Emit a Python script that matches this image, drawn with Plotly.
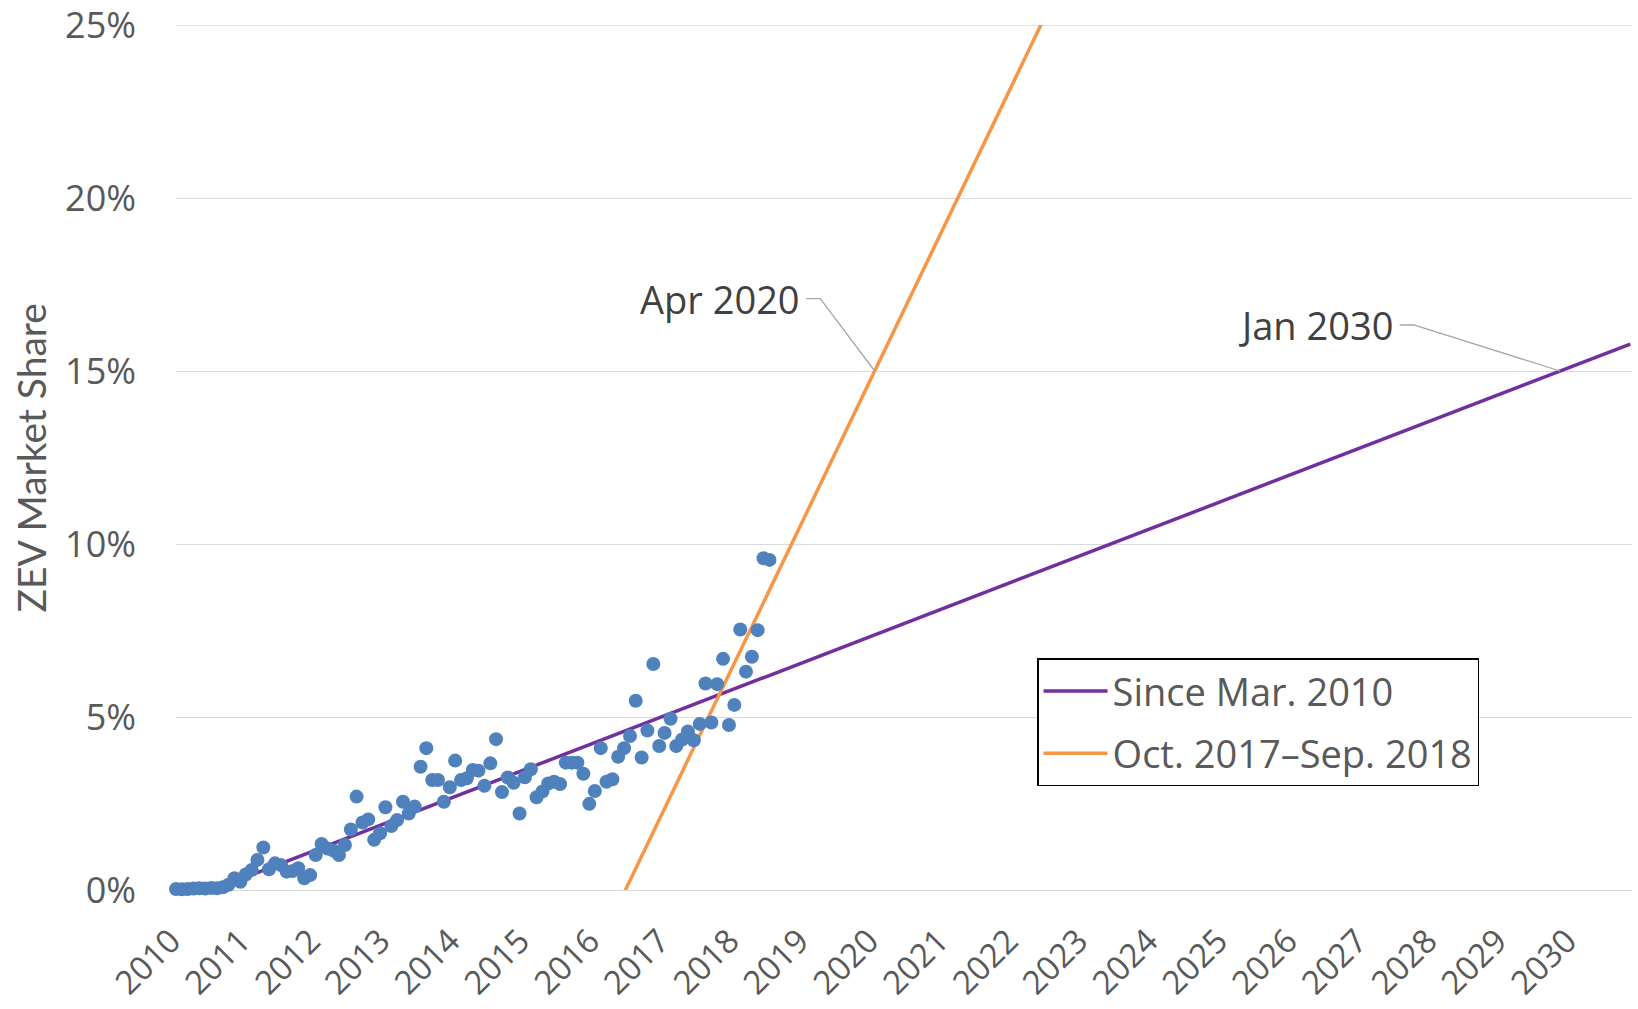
import pandas as pd
import plotly.graph_objects as go

# ---------------- data ----------------
# monthly ZEV market share (%), Mar 2010 .. Sep 2018
share_pct = [
    0.03, 0.02, 0.03, 0.04, 0.05, 0.04, 0.06, 0.05, 0.08, 0.15,   # Mar-Dec 2010
    0.34, 0.24, 0.45, 0.58, 0.87, 1.23, 0.60, 0.77, 0.72, 0.53,   # 2011
    0.55, 0.63, 0.34, 0.43, 1.01, 1.33, 1.20, 1.14, 1.01, 1.30,
    1.75, 2.70, 1.95, 2.04, 1.45, 1.64, 2.39, 1.85, 2.02, 2.55,
    2.21, 2.41, 3.56, 4.10, 3.18, 3.18, 2.55, 2.97, 3.74, 3.18,
    3.23, 3.47, 3.45, 3.01, 3.66, 4.36, 2.83, 3.25, 3.10, 2.21,
    3.26, 3.49, 2.68, 2.85, 3.08, 3.13, 3.06, 3.68, 3.68, 3.68,
    3.36, 2.49, 2.86, 4.10, 3.13, 3.20, 3.85, 4.10, 4.45, 5.47,
    3.83, 4.61, 6.53, 4.16, 4.54, 4.95, 4.16, 4.35, 4.58, 4.33,
    4.80, 5.97, 4.84, 5.95, 6.68, 4.77, 5.35, 7.53, 6.31, 6.74,
    7.51, 9.59, 9.54,
]
months = pd.date_range("2010-03-01", periods=len(share_pct), freq="MS")

# linear trend lines (read at two dates each; they extend beyond the plot and are clipped)
trend_all_name = "Since Mar. 2010"
trend_all_dates = ["2010-03-01", "2031-01-01"]
trend_all_pct = [-0.40, 15.78]

trend_recent_name = "Oct. 2017\u2013Sep. 2018"
trend_recent_dates = ["2016-03-01", "2023-03-01"]
trend_recent_pct = [-1.84, 27.55]

target_level = 15.0
year_labels = list(range(2010, 2031))
y_tick_values = [0, 5, 10, 15, 20, 25]

# ---------------- helpers ----------------
def crossing(dates, vals, level):
    t0, t1 = pd.Timestamp(dates[0]), pd.Timestamp(dates[1])
    frac = (level - vals[0]) / (vals[1] - vals[0])
    return t0 + (t1 - t0) * frac

cross_recent = crossing(trend_recent_dates, trend_recent_pct, target_level)
cross_all = crossing(trend_all_dates, trend_all_pct, target_level)

BLUE = "#4F81BD"
PURPLE = "#7030A0"
ORANGE = "#F79646"
GRID = "#D9D9D9"
TXT = "#595959"
FONT = "Open Sans"

fig = go.Figure()

fig.add_trace(go.Scatter(
    x=trend_all_dates, y=trend_all_pct, mode="lines",
    line=dict(color=PURPLE, width=3.5), name=trend_all_name, legendgroup="a",
))
fig.add_trace(go.Scatter(
    x=trend_recent_dates, y=trend_recent_pct, mode="lines",
    line=dict(color=ORANGE, width=3.5), name=trend_recent_name, legendgroup="b",
))

fig.add_trace(go.Scatter(
    x=months, y=share_pct, mode="markers",
    marker=dict(size=14, color=BLUE, line=dict(width=0)),
    showlegend=False, cliponaxis=False, hoverinfo="x+y",
))

# leader lines for the labels
LEAD = "#A6A6A6"
apr_text_end, apr_y = "2019-02-16", 17.09
fig.add_trace(go.Scatter(
    x=["2019-03-12", "2019-05-25", cross_recent], y=[apr_y, apr_y, target_level],
    mode="lines", line=dict(color=LEAD, width=1.3), showlegend=False, hoverinfo="skip",
))
jan_text_end, jan_y = "2027-08-17", 16.33
fig.add_trace(go.Scatter(
    x=["2027-09-12", "2027-11-25", cross_all], y=[jan_y, jan_y, target_level],
    mode="lines", line=dict(color=LEAD, width=1.3), showlegend=False, hoverinfo="skip",
))

fig.add_annotation(x=apr_text_end, y=apr_y, text="Apr 2020", showarrow=False,
                   xanchor="right", yanchor="middle",
                   font=dict(family=FONT, size=38, color="#404040"))
fig.add_annotation(x=jan_text_end, y=jan_y, text="Jan 2030", showarrow=False,
                   xanchor="right", yanchor="middle",
                   font=dict(family=FONT, size=38, color="#404040"))
fig.add_annotation(xref="paper", yref="paper", x=-0.0996, y=0.5, text="ZEV Market Share",
                   textangle=-90, showarrow=False, xanchor="center", yanchor="middle",
                   font=dict(family="Lato", size=39, color=TXT))

# top gridline (at the very edge of the plot area)
fig.add_shape(type="line", xref="paper", x0=0, x1=1, yref="y",
              y0=y_tick_values[-1], y1=y_tick_values[-1],
              line=dict(color=GRID, width=1.3), layer="below")

fig.update_layout(
    width=1638, height=1009,
    margin=dict(l=176, r=6, t=25, b=119, autoexpand=False),
    plot_bgcolor="white", paper_bgcolor="white",
    font=dict(family=FONT, size=36, color=TXT),
    legend=dict(
        x=0.5914, y=0.268, xanchor="left", yanchor="top",
        bordercolor="black", borderwidth=1.5, bgcolor="white",
        font=dict(family=FONT, size=38, color=TXT),
        traceorder="grouped", tracegroupgap=10, itemwidth=64,
    ),
)

fig.update_xaxes(
    type="date", range=["2010-03-01", "2031-01-10"],
    tickvals=[f"{y}-03-01" for y in year_labels],
    ticktext=[str(y) for y in year_labels],
    tickangle=-45, showgrid=False, showline=False, zeroline=False,
    ticks="", ticklabelstandoff=24, ticklabelshift=-5, automargin=False,
    ticklabeloverflow="allow",
    tickfont=dict(family=FONT, size=33, color=TXT),
)
fig.update_yaxes(
    range=[0, 25], tickvals=y_tick_values,
    ticktext=[f"{v}%" for v in y_tick_values],
    showgrid=True, gridcolor=GRID, gridwidth=1.3,
    zeroline=True, zerolinecolor=GRID, zerolinewidth=1.3,
    showline=False, ticks="", ticklabelstandoff=39, automargin=False,
    ticklabeloverflow="allow",
    tickfont=dict(family=FONT, size=36, color=TXT),
)

# remove the browser's default 8px body margin so the figure fills the window exactly
fig.write_html(
    "out.html",
    config={"displayModeBar": False},
    post_script="document.body.style.margin='0';",
)
